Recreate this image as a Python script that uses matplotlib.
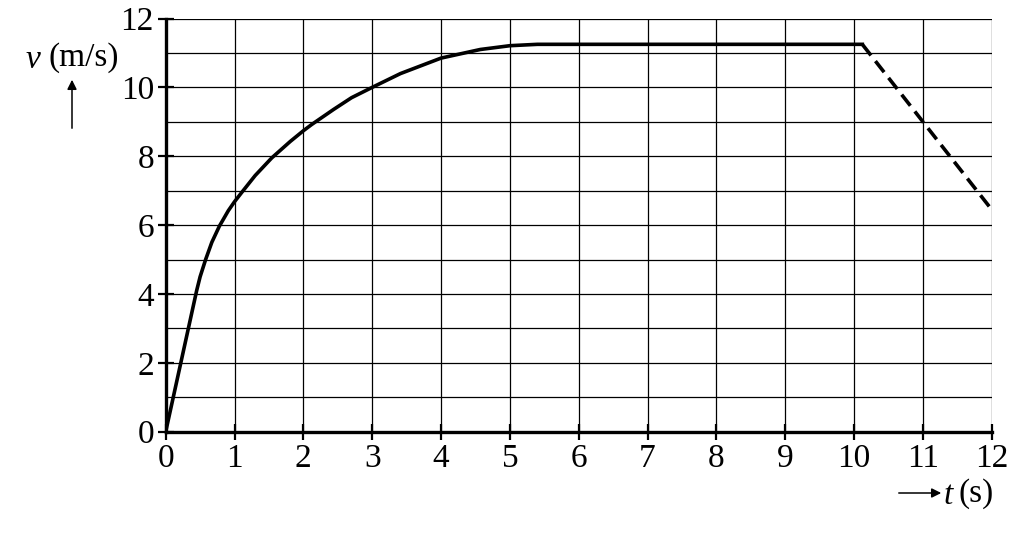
import numpy as np
import matplotlib
matplotlib.use("Agg")
import matplotlib.pyplot as plt

# velocity-time curve
t_acc = [0.0, 0.45, 0.50, 0.58, 0.67, 0.78, 0.91, 1.0, 1.105, 1.30, 1.54,
         1.81, 2.0, 2.12, 2.44, 2.7, 3.0, 3.41, 4.0, 4.57, 5.0, 5.4, 10.12]
v_acc = [0.0, 4.1, 4.5, 5.0, 5.5, 5.97, 6.42, 6.68, 6.95, 7.44, 7.95,
         8.43, 8.74, 8.92, 9.36, 9.7, 10.0, 10.4, 10.85, 11.1, 11.21, 11.25, 11.25]
t_brake = [10.12, 12.0]
v_brake = [11.25, 6.45]

xticks = list(range(0, 13))
yticks = list(range(0, 13, 2))

plt.rcParams["font.family"] = ["Liberation Serif", "DejaVu Serif"]
W, H = 1034, 540
fig = plt.figure(figsize=(W / 100, H / 100), dpi=100)
ax = fig.add_axes([165.7 / W, 1 - 431.7 / H, (991.7 - 165.7) / W, (431.7 - 18.5) / H])

ax.set_xlim(0, 12); ax.set_ylim(0, 12)
ax.set_xticks(xticks); ax.set_yticks(yticks)
ax.set_xticks(np.arange(0, 13, 1), minor=True)
ax.set_yticks(np.arange(0, 13, 1), minor=True)
ax.grid(which="both", color="k", lw=0.9)
ax.tick_params(which="major", direction="inout", length=11, width=1.6,
               labelsize=24, pad=3)
ax.tick_params(which="minor", length=0)
for side in ["top", "right"]:
    ax.spines[side].set_visible(False)
for side in ["left", "bottom"]:
    ax.spines[side].set_linewidth(2.4)

ax.plot(t_acc, v_acc, "-", color="k", lw=2.6, solid_joinstyle="round", zorder=5)
ax.plot(t_brake, v_brake, "--", color="k", lw=2.6, dashes=(3.9, 2.0), zorder=5, clip_on=False)

def px(x, y):
    return x / W, 1 - y / H

fig.text(*px(26, 60), "v", fontsize=24, style="italic", ha="left", va="center")
fig.text(*px(48, 58), "(m/s)", fontsize=24, ha="left", va="center")
fig.text(*px(944, 496), "t", fontsize=24, style="italic", ha="left", va="center")
fig.text(*px(958, 494), "(s)", fontsize=24, ha="left", va="center")

fig.add_artist(matplotlib.patches.FancyArrowPatch(
    px(72, 131), px(72, 77), transform=fig.transFigure, arrowstyle="-|>",
    mutation_scale=14, lw=1.1, color="k"))
fig.add_artist(matplotlib.patches.FancyArrowPatch(
    px(896, 493), px(944, 493), transform=fig.transFigure, arrowstyle="-|>",
    mutation_scale=14, lw=1.1, color="k"))

fig.savefig("out.png", dpi=100)
